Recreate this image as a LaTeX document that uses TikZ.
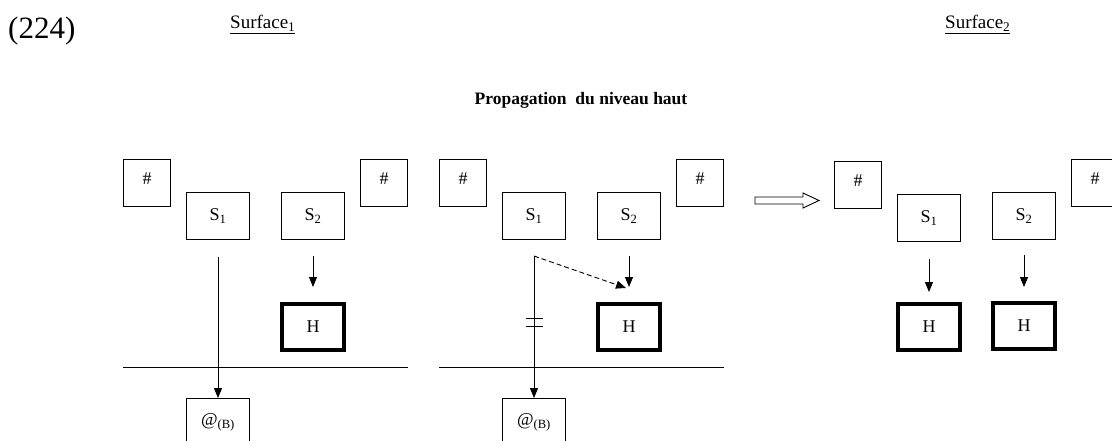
\documentclass[tikz,border=0pt]{standalone}
\usepackage{fontspec}
\setmainfont{Liberation Serif}
\usetikzlibrary{arrows.meta,positioning,calc}
\tikzset{
  levelarrow/.style={-{Triangle[length=10pt,width=8pt]}, line width=0.9pt},
  leveldash/.style={levelarrow, dashed, dash pattern=on 5pt off 3pt},
  cutline/.style={line width=0.9pt}
}

\begin{document}
\begin{tikzpicture}[x=1pt, y=-1pt,
  font=\fontsize{18}{20}\selectfont,
  slot/.style={draw, line width=0.9pt, minimum width=47pt, minimum height=47pt, inner sep=0pt, text depth=9pt},
  seg/.style={draw, line width=0.9pt, minimum width=63pt, minimum height=47pt, inner sep=0pt},
  high/.style={draw, line width=4pt, minimum width=62pt, minimum height=46pt, inner sep=0pt}
]
\useasboundingbox (0,0) rectangle (1112,441);
\clip (0,0) rectangle (1112,441);

% headings
\node[anchor=base west, inner sep=0pt, font=\fontsize{31}{33}\selectfont] (num) at (8,39) {(224)};
\node[anchor=base west, inner sep=0pt, font=\fontsize{19}{21}\selectfont] (surfA) at (230,29) {\underline{Surface\textsubscript{1}}};
\node[anchor=base west, inner sep=0pt, font=\fontsize{19}{21}\selectfont] (surfB) at (945,29) {\underline{Surface\textsubscript{2}}};
\node[anchor=base, inner sep=0pt, font=\fontsize{17.5}{19}\selectfont\bfseries] (title) at (581,105) {Propagation\ \ du niveau haut};

% first panel
\node[slot] (hashA) at (147,183) {\#};
\node[seg] (segA1) at (218,216) {S\textsubscript{1}};
\node[seg] (segA2) at (313,216) {S\textsubscript{2}};
\node[slot] (hashB) at (384,183) {\#};
\node[high] (highA) at (313,327) {H};
\node[seg] (addrA) at (218,422) {@\textsubscript{(B)}};
\draw[cutline] (hashA.west |- 0,367) -- (hashB.east |- 0,367);
\draw[levelarrow, shorten <=17pt] (segA1.south) -- (addrA.north);
\draw[levelarrow, shorten <=16pt, shorten >=15pt] (segA2.south) -- (highA.north);

% second panel: the link to @ is cut, level moves to H
\node[slot] (hashC) at (463,183) {\#};
\node[seg] (segB1) at (534,216) {S\textsubscript{1}};
\node[seg] (segB2) at (629,216) {S\textsubscript{2}};
\node[slot] (hashD) at (700,183) {\#};
\node[high] (highB) at (629,327) {H};
\node[seg] (addrB) at (534,422) {@\textsubscript{(B)}};
\draw[cutline] (hashC.west |- 0,367) -- (hashD.east |- 0,367);
\coordinate (splitB) at (534,256);
\coordinate (tipB) at (626,288);
\draw[levelarrow] (splitB) -- (addrB.north);
\draw[leveldash] (splitB) -- (tipB);
\draw[levelarrow, shorten <=16pt, shorten >=15pt] (segB2.south) -- (highB.north);
\draw[cutline] (526,318) -- (543,318) (526,326) -- (543,326);

% result
\draw[line width=0.9pt] (755,197) -- (803,197) -- (803,193) -- (819,200.5) -- (803,208) -- (803,204) -- (755,204) -- cycle;
\node[slot] (hashE) at (858,185) {\#};
\node[seg] (segC1) at (929,218) {S\textsubscript{1}};
\node[seg] (segC2) at (1024,216) {S\textsubscript{2}};
\node[slot] (hashF) at (1095,183) {\#};
\node[high] (highC1) at (929,327) {H};
\node[high] (highC2) at (1024,326) {H};
\draw[levelarrow, shorten <=17pt, shorten >=10pt] (segC1.south) -- (highC1.north);
\draw[levelarrow, shorten <=15pt, shorten >=14pt] (segC2.south) -- (highC2.north);
\end{tikzpicture}
\end{document}
